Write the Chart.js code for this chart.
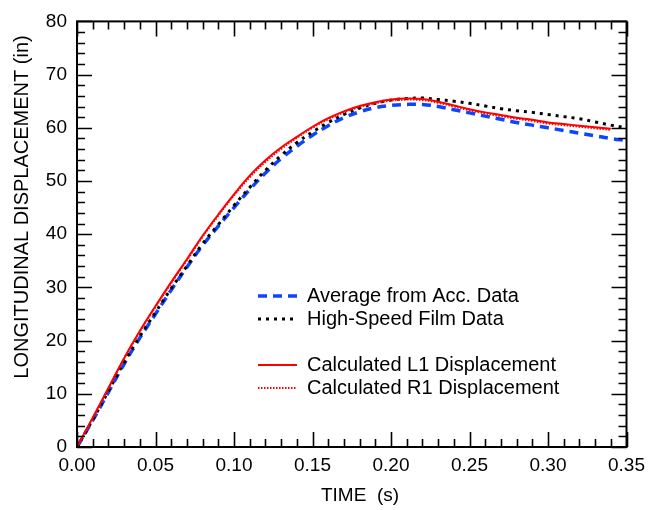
<!DOCTYPE html>
<html>
<head>
<meta charset="utf-8">
<script src="https://cdn.jsdelivr.net/npm/chart.js@4.4.1/dist/chart.umd.min.js"></script>
<style>
  html, body { margin: 0; padding: 0; background: #fff; }
</style>
</head>
<body>
<canvas id="chart" width="652" height="510"></canvas>
<script>
const timeS = [0, 0.01, 0.02, 0.03, 0.04, 0.05, 0.06, 0.07, 0.08, 0.09, 0.10, 0.11, 0.12,
  0.13, 0.14, 0.15, 0.16, 0.17, 0.18, 0.19, 0.20, 0.21, 0.22, 0.23, 0.24, 0.25, 0.26,
  0.27, 0.28, 0.29, 0.30, 0.31, 0.32, 0.33, 0.34, 0.35];

const avgAcc = [0, 5.0, 10.3, 15.6, 20.5, 25.0, 29.5, 33.8, 37.9, 41.5, 45.0, 48.4, 51.5,
  54.2, 56.5, 58.6, 60.4, 61.9, 63.0, 63.8, 64.2, 64.4, 64.4, 64.0, 63.4, 62.8, 62.2,
  61.6, 61.0, 60.5, 60.0, 59.5, 59.0, 58.5, 58.0, 57.6];

const filmData = [0, 5.1, 10.5, 15.9, 20.8, 25.3, 29.8, 34.0, 38.2, 41.8, 45.4, 48.8, 52.0,
  54.8, 57.2, 59.2, 61.0, 62.5, 63.7, 64.6, 65.2, 65.5, 65.6, 65.3, 65.0, 64.6, 64.1,
  63.6, 63.2, 62.9, 62.5, 62.1, 61.7, 61.1, 60.5, 60.0];

// calculated curves stop at 0.34 s
const calcL1 = [0, 5.5, 11.1, 16.7, 21.8, 26.5, 31.0, 35.3, 39.7, 43.7, 47.5, 51.0, 53.9,
  56.3, 58.3, 60.2, 61.8, 63.1, 64.1, 64.8, 65.3, 65.5, 65.4, 64.9, 64.2, 63.5, 62.9,
  62.4, 61.9, 61.5, 61.0, 60.7, 60.4, 60.1, 59.8];

const calcR1 = [0, 5.4, 11.0, 16.6, 21.7, 26.3, 30.8, 35.1, 39.5, 43.5, 47.3, 50.7, 53.6,
  56.0, 58.1, 60.0, 61.6, 62.9, 63.9, 64.6, 65.1, 65.3, 65.2, 64.7, 64.0, 63.3, 62.7,
  62.2, 61.7, 61.3, 60.8, 60.5, 60.2, 59.9, 59.6];

const seriesLabels = ['Average from Acc. Data', 'High-Speed Film Data',
  'Calculated L1 Displacement', 'Calculated R1 Displacement'];

const xTitle = 'TIME  (s)';
const yTitle = 'LONGITUDINAL DISPLACEMENT (in)';

const FONT = '"Liberation Sans", Arial, Helvetica, sans-serif';

function points(vals) {
  return vals.map((v, i) => ({ x: timeS[i], y: v }));
}

// inward major/minor ticks on all four sides plus the box
const frameTicks = {
  id: 'frameTicks',
  afterDatasetsDraw(chart) {
    const { ctx, chartArea: a, scales: { x, y } } = chart;
    ctx.save();
    ctx.strokeStyle = '#000';
    ctx.lineWidth = 1.6;
    ctx.beginPath();
    for (let i = 0; i <= 35; i++) {
      const px = Math.round(x.getPixelForValue(i / 100)) + 0.5;
      const len = i % 5 === 0 ? 15 : 8;
      ctx.moveTo(px, a.bottom); ctx.lineTo(px, a.bottom - len);
      ctx.moveTo(px, a.top); ctx.lineTo(px, a.top + len);
    }
    for (let v = 0; v <= 80; v += 2) {
      const py = Math.round(y.getPixelForValue(v)) + 0.5;
      const len = v % 10 === 0 ? 15 : 8;
      ctx.moveTo(a.left, py); ctx.lineTo(a.left + len, py);
      ctx.moveTo(a.right, py); ctx.lineTo(a.right - len, py);
    }
    ctx.stroke();
    ctx.lineWidth = 2;
    ctx.strokeRect(a.left, a.top, a.width, a.height);
    ctx.restore();
  }
};

// legend inside the plot, with an empty row between the two groups
const innerLegend = {
  id: 'innerLegend',
  afterDraw(chart) {
    const { ctx } = chart;
    const rows = [0, 1, 3, 4];
    ctx.save();
    ctx.font = '20px ' + FONT;
    ctx.textBaseline = 'middle';
    ctx.fillStyle = '#000';
    chart.data.datasets.forEach((ds, i) => {
      const yy = 296 + rows[i] * 23;
      ctx.save();
      ctx.strokeStyle = ds.borderColor;
      ctx.lineWidth = ds.borderWidth;
      ctx.setLineDash(ds.borderDash || []);
      ctx.beginPath();
      ctx.moveTo(258, yy);
      ctx.lineTo(297, yy);
      ctx.stroke();
      ctx.restore();
      ctx.fillText(ds.label, 307, yy);
    });
    ctx.restore();
  }
};

const axisTitles = {
  id: 'axisTitles',
  afterDraw(chart) {
    const { ctx } = chart;
    ctx.save();
    ctx.fillStyle = '#000';
    ctx.font = '19px ' + FONT;
    ctx.textAlign = 'center';
    ctx.textBaseline = 'middle';
    ctx.fillText(xTitle, 360, 496);
    ctx.translate(22, 207);
    ctx.rotate(-Math.PI / 2);
    ctx.font = '20px ' + FONT;
    ctx.fillText(yTitle, 0, 0);
    ctx.restore();
  }
};

new Chart(document.getElementById('chart'), {
  type: 'line',
  data: {
    datasets: [
      {
        label: seriesLabels[0],
        data: points(avgAcc),
        borderColor: '#0a45ff',
        borderWidth: 3.5,
        borderDash: [9, 6],
        order: 3
      },
      {
        label: seriesLabels[1],
        data: points(filmData),
        borderColor: '#000000',
        borderWidth: 3,
        borderDash: [3, 5],
        order: 2
      },
      {
        label: seriesLabels[2],
        data: points(calcL1),
        borderColor: '#ff0000',
        borderWidth: 2,
        order: 1
      },
      {
        label: seriesLabels[3],
        data: points(calcR1),
        borderColor: '#ff0000',
        borderWidth: 2,
        borderDash: [1.5, 1.5],
        order: 0
      }
    ]
  },
  options: {
    responsive: false,
    animation: false,
    elements: {
      point: { radius: 0 },
      line: { tension: 0.4 }
    },
    layout: { padding: { left: 0, top: 15, right: 21, bottom: 0 } },
    plugins: {
      legend: { display: false },
      tooltip: { enabled: false }
    },
    scales: {
      x: {
        type: 'linear',
        min: 0,
        max: 0.35,
        afterFit(scale) { scale.height = 63; },
        grid: { display: false, drawTicks: false },
        border: { display: false },
        ticks: {
          stepSize: 0.05,
          autoSkip: false,
          maxRotation: 0,
          padding: 7,
          color: '#000',
          font: { family: FONT, size: 19 },
          callback: v => v.toFixed(2)
        }
      },
      y: {
        min: 0,
        max: 80,
        afterFit(scale) { scale.width = 77; },
        grid: { display: false, drawTicks: false },
        border: { display: false },
        ticks: {
          stepSize: 10,
          padding: 10,
          color: '#000',
          font: { family: FONT, size: 19 }
        }
      }
    }
  },
  plugins: [frameTicks, innerLegend, axisTitles]
});
</script>
</body>
</html>
